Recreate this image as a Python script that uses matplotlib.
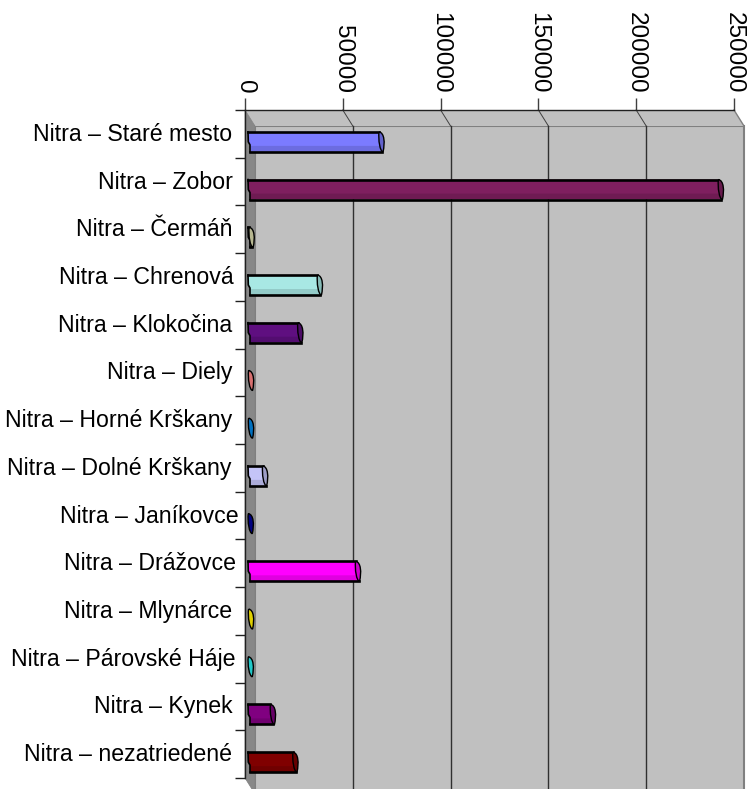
#!/usr/bin/env python3
import matplotlib
matplotlib.use('Agg')
import matplotlib.pyplot as plt
from matplotlib.colors import to_rgb
from matplotlib.patches import Polygon, PathPatch
from matplotlib.path import Path
from matplotlib.transforms import ScaledTranslation

labels = ['Nitra – Staré mesto', 'Nitra – Zobor', 'Nitra – Čermáň', 'Nitra – Chrenová',
          'Nitra – Klokočina', 'Nitra – Diely', 'Nitra – Horné Krškany', 'Nitra – Dolné Krškany',
          'Nitra – Janíkovce', 'Nitra – Drážovce', 'Nitra – Mlynárce', 'Nitra – Párovské Háje',
          'Nitra – Kynek', 'Nitra – nezatriedené']
values = [67000, 240500, 600, 35500, 25500, 300, 300, 7500, 150, 55000, 300, 150, 11500, 23000]
colors = ['#7B7BFF', '#7F1F5F', '#E4E4B4', '#A8E8E4', '#5F0F80', '#D87070', '#0070C0',
          '#C4C4F8', '#000080', '#FF00FF', '#E0D000', '#20C8C8', '#800080', '#800000']
ticks = [0, 50000, 100000, 150000, 200000, 250000]
# the labels do not line up exactly on the right, px shift for each one
label_nudge = [0, 0, 0, 1, 0, 0, 0, -1, 6, 3, 0, 3, 0, 0]

W, H = 754, 789
L, R, T, B = 245, 734, 110, 778   # front plane of the chart in pixels
DX, DY = 10, 16                   # depth of the fake 3d box

plt.rcParams['font.family'] = ['Liberation Sans', 'DejaVu Sans']
fig = plt.figure(figsize=(W / 100, H / 100), dpi=100)
ax = fig.add_axes([L / W, 1 - B / H, (R - L) / W, (B - T) / H])
ax.set_xlim(0, 250000)
ax.set_ylim(len(labels), 0)
ax.set_facecolor('none')

vpx = 250000 / (R - L)
cpx = len(labels) / (B - T)

def poly(pts, **kw):
    # pts are (value, category, px right, px down)
    xy = [(v + a * vpx, c + b * cpx) for v, c, a, b in pts]
    p = Polygon(xy, closed=True, clip_on=False, **kw)
    ax.add_patch(p)
    return p

def curve(verts, codes, **kw):
    xy = [(v + a * vpx, c + b * cpx) for v, c, a, b in verts]
    p = PathPatch(Path(xy, codes), clip_on=False, **kw)
    ax.add_patch(p)
    return p

n = len(labels)
# walls
poly([(0, 0, DX, DY), (250000, 0, DX, DY), (250000, n, DX, DY), (0, n, DX, DY)],
     fc='#C0C0C0', ec='#808080', lw=1.5, zorder=1)
poly([(0, 0, 0, 0), (250000, 0, 0, 0), (250000, 0, DX, DY), (0, 0, DX, DY)],
     fc='#C0C0C0', ec='none', zorder=1.2)
poly([(0, 0, 0, 0), (0, 0, DX, DY), (0, n, DX, DY), (0, n, 0, 0)],
     fc='#888888', ec='#808080', lw=0.5, zorder=1.2)
ax.plot([250000, 250000 + DX * vpx], [0, DY * cpx], color='#808080', lw=1, clip_on=False, zorder=1.3)

# gridlines on back wall
for t in ticks[1:-1]:
    ax.plot([t, t + DX * vpx], [0, DY * cpx], color='#404040', lw=0.7, clip_on=False, zorder=1.5)
    ax.plot([t + DX * vpx, t + DX * vpx], [DY * cpx, n + DY * cpx], color='#303030', lw=1,
            clip_on=False, zorder=1.5)

# bars
C = [Path.MOVETO, Path.CURVE4, Path.CURVE4, Path.CURVE4, Path.CURVE4, Path.CURVE4, Path.CURVE4]
for i, (val, col) in enumerate(zip(values, colors)):
    c = i + 0.5
    cy = 8   # bar sits in the middle of the depth
    h = 10
    x0 = 3
    e = 5    # end cap centre
    if val >= 500:
        poly([(0, c, x0, cy - h), (val, c, e - 2, cy - h), (val, c, e + 1, cy + h), (0, c, x0 + 2, cy + h),
              (0, c, x0 + 2, cy + 3), (0, c, x0, cy)],
             fc=col, ec='none', zorder=3)
        # darker band on the lower part of the cylinder
        poly([(0, c, x0 + 1, cy + 4), (val, c, e, cy + 4), (val, c, e + 1, cy + h), (0, c, x0 + 2, cy + h)],
             fc='black', alpha=0.12, ec='none', zorder=3.1)
        ax.plot([x0 * vpx, val + (e - 2) * vpx], [c + (cy - h) * cpx] * 2, color='black', lw=1.9,
                clip_on=False, zorder=4)
        ax.plot([(x0 + 2) * vpx, val + (e + 1) * vpx], [c + (cy + h) * cpx] * 2, color='black', lw=1.9,
                clip_on=False, zorder=4)
        ax.plot([x0 * vpx, (x0 + 0.3) * vpx, (x0 + 2) * vpx, (x0 + 2) * vpx],
                [c + (cy - h) * cpx, c + cy * cpx, c + (cy + 3) * cpx, c + (cy + h) * cpx],
                color='black', lw=1.2, clip_on=False, zorder=4)
        shade = tuple(0.8 * k for k in to_rgb(col))
    else:
        shade = col
    # skewed ellipse at the end
    verts = [(val, c, e - 2, cy - h),
             (val, c, e + 3.5, cy - h + 1), (val, c, e + 4, cy + 1), (val, c, e + 2, cy + h),
             (val, c, e - 1, cy + h), (val, c, e - 3, cy - 2), (val, c, e - 2, cy - h)]
    curve(verts, C, fc=shade, ec='black', lw=1.0, zorder=5)

ax.xaxis.tick_top()
ax.set_xticks(ticks)
ax.set_xticklabels([str(t) for t in ticks], rotation=270, ha='center', va='bottom', fontsize=17.5)
ax.tick_params(axis='x', length=9, width=1, color='#404040', pad=3)

ax.set_yticks([i + 0.5 for i in range(n)])
ax.set_yticklabels(labels, fontsize=16.7)
ax.set_yticks(range(n + 1), minor=True)
ax.tick_params(axis='y', which='major', length=0, pad=9)
ax.tick_params(axis='y', which='minor', length=7.5, width=1, color='#202020')
# labels sit a bit higher than the slot centre
for lab, nudge in zip(ax.get_yticklabels(), label_nudge):
    lab.set_transform(lab.get_transform() + ScaledTranslation(nudge / 100, 2 / 100, fig.dpi_scale_trans))

for s in ['right', 'bottom']:
    ax.spines[s].set_visible(False)
for s in ['top', 'left']:
    ax.spines[s].set_color('#202020')
    ax.spines[s].set_linewidth(1)
    ax.spines[s].set_zorder(2)

fig.savefig('out.png', dpi=100, facecolor='white')
